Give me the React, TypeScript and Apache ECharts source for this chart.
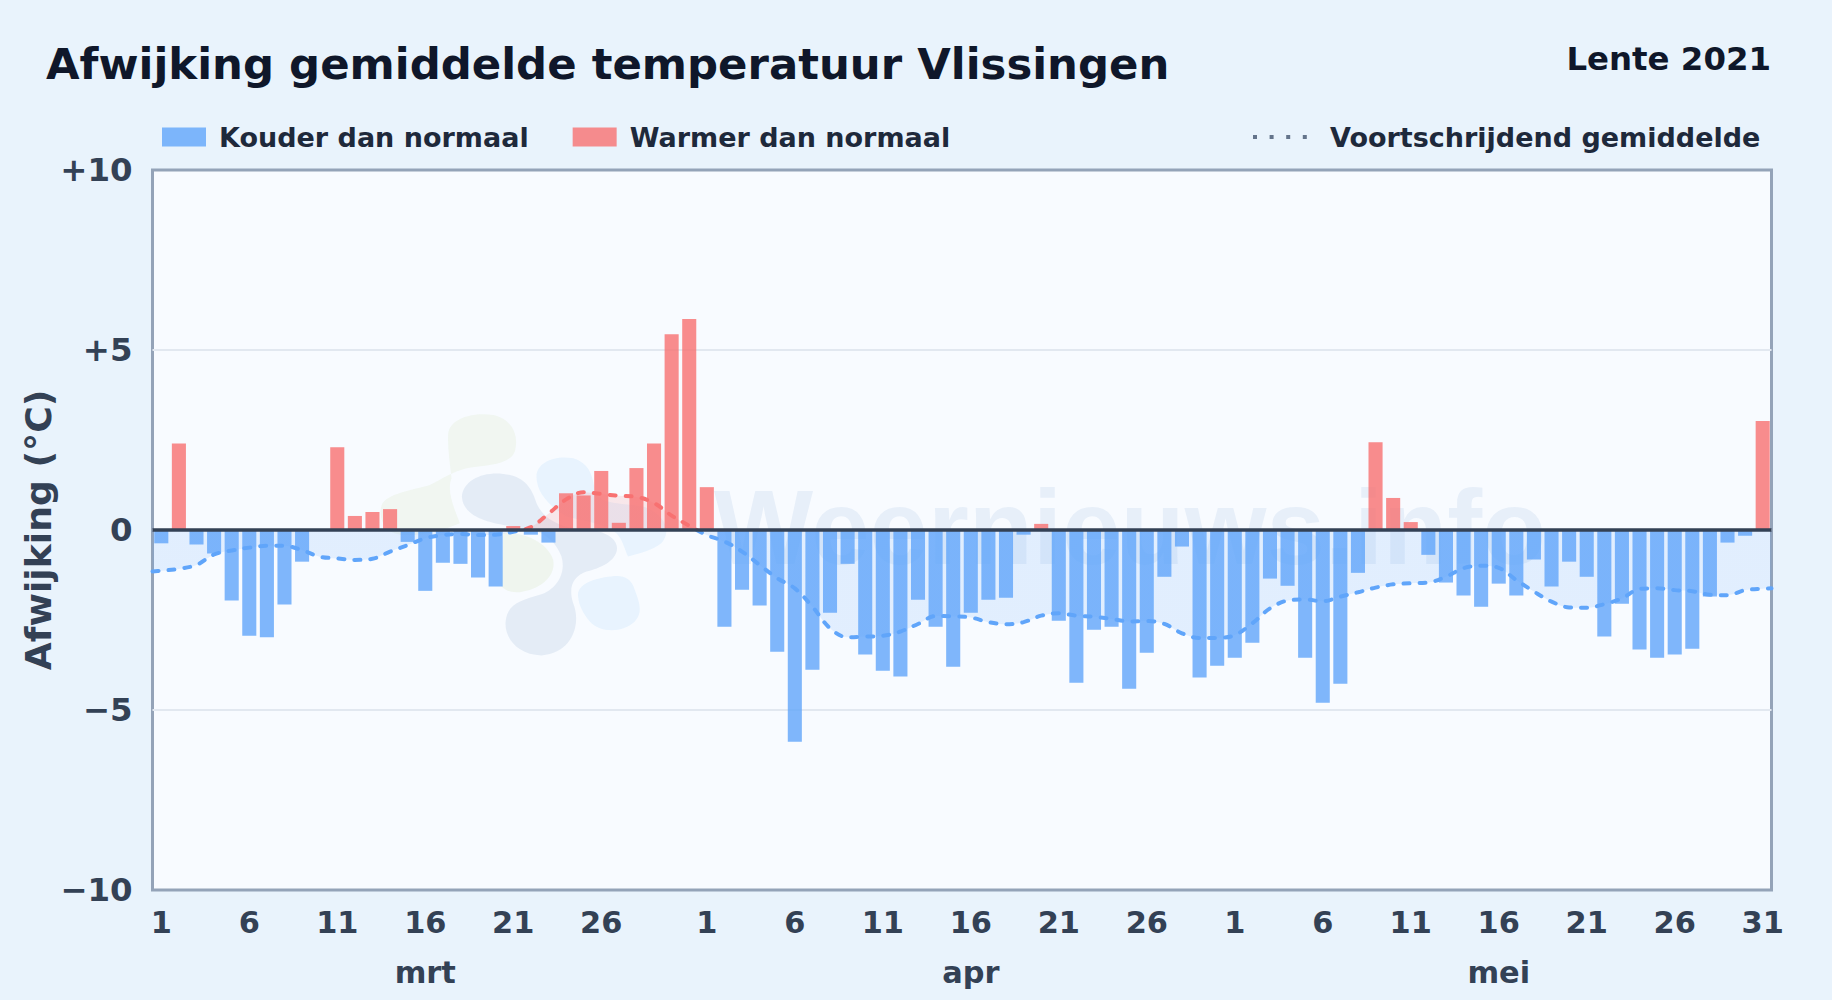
import React, { useEffect, useRef } from "react";
import * as echarts from "echarts";

const FONT = '"DejaVu Sans", sans-serif';

const marchDeviation = [-0.37, 2.4, -0.4, -0.65, -1.96, -2.94, -2.98, -2.07, -0.88, 0, 2.3, 0.39, 0.5, 0.58, -0.33, -1.69, -0.91, -0.94, -1.32, -1.57, 0.11, -0.13, -0.35, 1.02, 0.96, 1.64, 0.2, 1.72, 2.4, 5.44, 5.86];
const aprilDeviation = [1.19, -2.69, -1.66, -2.1, -3.38, -5.88, -3.88, -2.3, -0.94, -3.46, -3.91, -4.07, -1.94, -2.69, -3.8, -2.3, -1.94, -1.88, -0.13, 0.17, -2.52, -4.24, -2.77, -2.69, -4.41, -3.41, -1.3, -0.46, -4.1, -3.77];
const mayDeviation = [-3.55, -3.13, -1.35, -1.55, -3.55, -4.8, -4.27, -1.19, 2.44, 0.89, 0.22, -0.69, -1.46, -1.82, -2.13, -1.49, -1.82, -0.82, -1.57, -0.88, -1.3, -2.96, -2.05, -3.32, -3.55, -3.46, -3.3, -1.85, -0.35, -0.16, 3.03];

const marchAverage = [-1.13, -1.08, -0.97, -0.68, -0.57, -0.49, -0.44, -0.44, -0.56, -0.74, -0.79, -0.83, -0.8, -0.6, -0.42, -0.23, -0.14, -0.11, -0.14, -0.13, -0.05, 0.08, 0.45, 0.85, 1.05, 1.0, 0.95, 0.92, 0.75, 0.4, 0.12];
const aprilAverage = [-0.14, -0.32, -0.6, -0.97, -1.34, -1.62, -2.13, -2.73, -2.98, -2.96, -2.94, -2.82, -2.61, -2.39, -2.4, -2.43, -2.56, -2.62, -2.56, -2.38, -2.31, -2.38, -2.41, -2.47, -2.54, -2.53, -2.61, -2.87, -3.0, -3.0];
const mayAverage = [-2.92, -2.59, -2.18, -1.96, -1.93, -1.98, -1.85, -1.73, -1.6, -1.51, -1.48, -1.46, -1.3, -1.06, -0.99, -1.05, -1.39, -1.71, -1.99, -2.15, -2.16, -2.06, -1.9, -1.64, -1.62, -1.67, -1.7, -1.8, -1.81, -1.67, -1.63];
const averageAtStartEdge = -1.15;
const averageAtEndEdge = -1.62;

const months = [
  { name: "mrt", days: marchDeviation.length },
  { name: "apr", days: aprilDeviation.length },
  { name: "mei", days: mayDeviation.length },
];
const categories = months.flatMap((m) =>
  Array.from({ length: m.days }, (_, i) => `${i + 1} ${m.name}`)
);
const dayLabelIndexes = [0, 5, 10, 15, 20, 25, 31, 36, 41, 46, 51, 56, 61, 66, 71, 76, 81, 86, 91];
const monthLabelIndexes = [15, 46, 76];

const deviation = [...marchDeviation, ...aprilDeviation, ...mayDeviation];
const average = [...marchAverage, ...aprilAverage, ...mayAverage];
const colder = deviation.map((v) => (v < 0 ? v : null));
const warmer = deviation.map((v) => (v > 0 ? v : null));
// The curve runs from edge to edge of the plot, so it sits on a continuous day scale.
const averagePoints = [
  [0, averageAtStartEdge],
  ...average.map((v, i) => [i + 0.5, v]),
  [categories.length, averageAtEndEdge],
];

const COLD = "rgba(96,165,250,0.8)";
const WARM = "rgba(248,113,113,0.8)";
const CLEAR = "rgba(0,0,0,0)";
const GRIDLINE = "#e2e8f0";

const blobs: Record<string, string> = {
  wmGreenTop:
    "M265,130 C270,85 340,65 400,75 C450,85 480,130 465,185 C450,225 380,225 320,235 C280,245 250,265 210,285 C160,300 80,310 65,345 C55,385 70,425 120,435 C180,440 240,425 300,400 C280,350 260,300 275,265 C270,220 262,170 265,130 Z",
  wmGreenLow:
    "M430,430 C480,425 560,450 580,510 C590,560 540,600 480,607 C450,610 435,600 425,590 Z",
  wmSlate:
    "M306,320 C310,270 370,245 430,252 C490,258 515,290 530,340 C550,385 590,405 640,415 C700,415 770,430 772,475 C770,515 720,535 680,545 C640,560 625,590 640,640 C665,700 640,790 545,797 C470,795 430,740 438,690 C445,640 490,630 540,615 C590,600 620,550 605,500 C590,460 560,430 510,418 C440,405 310,400 306,320 Z",
  wmBlueTop:
    "M530,260 C530,215 590,195 640,205 C690,220 700,260 705,305 C720,345 790,340 850,350 C910,370 940,420 905,460 C880,480 840,490 805,500 C795,480 790,450 770,430 C730,400 680,395 620,380 C570,350 530,310 530,260 Z",
  wmBlueLow:
    "M655,620 C650,585 700,565 755,560 C790,555 815,565 825,600 C840,640 850,670 825,695 C790,730 720,730 690,695 C670,670 658,650 655,620 Z",
};
Object.entries(blobs).forEach(([name, d]) => {
  echarts.graphic.registerShape(name, echarts.graphic.extendPath(d as any, {}) as any);
});

const blobStyles: [string, string][] = [
  ["wmGreenTop", "rgba(190,220,150,0.13)"],
  ["wmGreenLow", "rgba(190,220,150,0.16)"],
  ["wmSlate", "rgba(60,110,170,0.1)"],
  ["wmBlueTop", "rgba(120,190,245,0.13)"],
  ["wmBlueLow", "rgba(120,190,245,0.13)"],
];

export default function App() {
  const ref = useRef<HTMLDivElement>(null);
  useEffect(() => {
    const chart = echarts.init(ref.current!, undefined, { renderer: "svg" });
    chart.setOption({
      animation: false,
      backgroundColor: "#e9f3fc",
      textStyle: { fontFamily: FONT },
      title: [
        {
          text: "Afwijking gemiddelde temperatuur Vlissingen",
          left: 46,
          top: 42.5,
          padding: 0,
          textStyle: { fontFamily: FONT, fontSize: 43.4, fontWeight: "bold", color: "#0f172a" },
        },
        {
          text: "Lente 2021",
          right: 61,
          top: 43,
          padding: 0,
          textStyle: { fontFamily: FONT, fontSize: 32.4, fontWeight: "bold", color: "#0f172a" },
        },
      ],
      legend: [
        {
          left: 162,
          top: 123.5,
          padding: 0,
          icon: "rect",
          itemWidth: 44,
          itemHeight: 19,
          itemGap: 44,
          data: ["Kouder dan normaal", "Warmer dan normaal"],
          textStyle: { fontFamily: FONT, fontSize: 27, fontWeight: "bold", color: "#1e293b", padding: [0, 0, 0, 8] },
          selectedMode: false,
        },
        {
          left: 1251,
          top: 123.5,
          padding: 0,
          itemWidth: 57,
          itemHeight: 19,
          data: ["Voortschrijdend gemiddelde"],
          lineStyle: { color: "#64748b", type: [4, 12.6], width: 4, cap: "butt" },
          itemStyle: { opacity: 0 },
          textStyle: { fontFamily: FONT, fontSize: 27, fontWeight: "bold", color: "#1e293b", padding: [0, 0, 0, 15] },
          selectedMode: false,
        },
      ],
      graphic: [
        {
          type: "text",
          x: 714,
          y: 580,
          z: 1,
          silent: true,
          style: {
            text: "Weernieuws.info",
            fontFamily: '"Liberation Sans", sans-serif',
            fontWeight: "bold",
            fontSize: 105,
            fill: "rgba(60,120,190,0.085)",
            verticalAlign: "bottom",
          },
        },
        ...blobStyles.map(([type, fill]) => ({
          type,
          x: 360,
          y: 390,
          scaleX: 1 / 3,
          scaleY: 1 / 3,
          z: 1,
          silent: true,
          style: { fill },
        })),
      ],
      grid: {
        left: 152.5,
        right: 60.5,
        top: 170,
        bottom: 110,
        show: true,
        backgroundColor: "#f8fbff",
        borderColor: "#94a3b8",
        borderWidth: 3,
      },
      xAxis: [
        {
          type: "category",
          data: categories,
          axisLine: { show: false, onZero: false },
          axisTick: { show: false },
          splitLine: { show: false },
          axisLabel: {
            interval: (i: number) => dayLabelIndexes.includes(i),
            formatter: (v: string) => v.split(" ")[0],
            margin: 17,
            fontFamily: FONT,
            fontSize: 30.4,
            fontWeight: "bold",
            color: "#334155",
            hideOverlap: false,
          },
        },
        {
          type: "category",
          position: "bottom",
          offset: 51,
          data: categories,
          axisLine: { show: false, onZero: false },
          axisTick: { show: false },
          splitLine: { show: false },
          axisLabel: {
            interval: (i: number) => monthLabelIndexes.includes(i),
            formatter: (v: string) => v.split(" ")[1],
            margin: 16,
            fontFamily: FONT,
            fontSize: 30.4,
            fontWeight: "bold",
            color: "#334155",
          },
        },
        {
          type: "value",
          show: false,
          min: 0,
          max: categories.length,
          splitLine: { show: false },
        },
      ],
      yAxis: {
        type: "value",
        min: -10,
        max: 10,
        interval: 5,
        name: "Afwijking (°C)",
        nameLocation: "middle",
        nameGap: 96,
        nameMoveOverlap: false,
        nameTextStyle: { fontFamily: FONT, fontSize: 36.2, fontWeight: "bold", color: "#334155" },
        axisLine: { show: false },
        axisTick: { show: false },
        splitLine: { lineStyle: { color: [CLEAR, GRIDLINE, GRIDLINE, GRIDLINE, CLEAR], width: 2 } },
        axisLabel: {
          margin: 20,
          fontFamily: FONT,
          fontSize: 32.4,
          fontWeight: "bold",
          color: "#334155",
          formatter: (v: number) => (v > 0 ? `+${v}` : v < 0 ? `\u2212${Math.abs(v)}` : "0"),
        },
      },
      visualMap: {
        show: false,
        type: "piecewise",
        seriesIndex: 2,
        dimension: 1,
        pieces: [
          { gt: 0, lte: 100, color: "#f87171" },
          { gte: -100, lte: 0, color: "#60a5fa" },
        ],
      },
      series: [
        {
          name: "Kouder dan normaal",
          type: "bar",
          data: colder,
          barWidth: "80%",
          barGap: "-100%",
          z: 2,
          itemStyle: { color: COLD },
        },
        {
          name: "Warmer dan normaal",
          type: "bar",
          data: warmer,
          barWidth: "80%",
          barGap: "-100%",
          z: 2,
          itemStyle: { color: WARM },
        },
        {
          name: "Voortschrijdend gemiddelde",
          type: "line",
          xAxisIndex: 2,
          data: averagePoints,
          smooth: 0.35,
          symbol: "none",
          z: 3,
          lineStyle: { width: 4, type: [6, 10], cap: "round" },
          areaStyle: { opacity: 0.15, origin: 0 },
          markLine: {
            silent: true,
            symbol: "none",
            label: { show: false },
            lineStyle: { color: "#334155", width: 3.5, type: "solid" },
            data: [{ yAxis: 0 }],
          },
        },
      ],
    });
    return () => chart.dispose();
  }, []);
  return (
    <div
      ref={ref}
      style={{ position: "absolute", left: 0, top: 0, width: 1832, height: 1000 }}
    />
  );
}
